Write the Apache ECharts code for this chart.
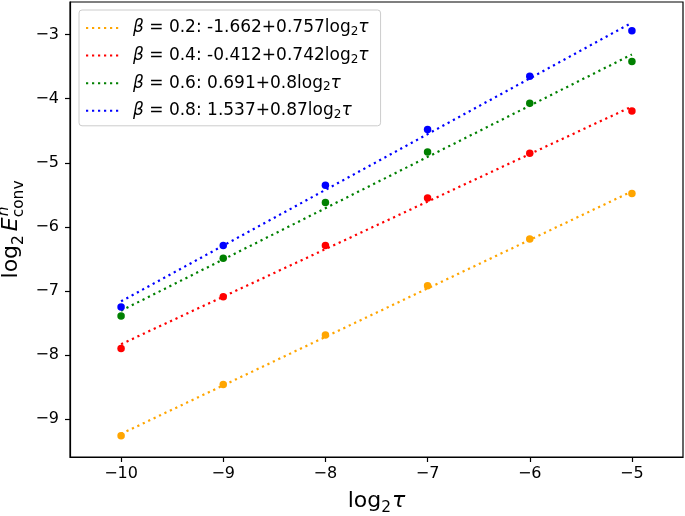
<!DOCTYPE html>
<html><head><meta charset="utf-8">
<script src="https://cdn.jsdelivr.net/npm/echarts@6/dist/echarts.min.js"></script>
<style>html,body{margin:0;padding:0;background:#fff}#c{width:685px;height:516px}</style>
</head><body><div id="c"></div>
<script>
// ---- data ----
const xValues = [-10, -9, -8, -7, -6, -5];
const beta02 = [-9.26, -8.46, -7.69, -6.92, -6.19, -5.48];
const beta04 = [-7.90, -7.09, -6.29, -5.55, -4.85, -4.19];
const beta06 = [-7.39, -6.49, -5.62, -4.83, -4.07, -3.42];
const beta08 = [-7.25, -6.29, -5.35, -4.48, -3.65, -2.94];
const fitX = [-10, -5];
const fit02 = [-9.232, -5.447];
const fit04 = [-7.832, -4.122];
const fit06 = [-7.309, -3.309];
const fit08 = [-7.163, -2.813];
const betaLabels = ['0.2', '0.4', '0.6', '0.8'];
const intercepts = ['-1.662', '-0.412', '0.691', '1.537'];
const slopes = ['0.757', '0.742', '0.8', '0.87'];
const xTicks = [-10, -9, -8, -7, -6, -5];
const yTicks = [-9, -8, -7, -6, -5, -4, -3];
const colors = ['#ffa500', '#ff0000', '#008000', '#0000ff'];

const pts = [beta02, beta04, beta06, beta08];
const fits = [fit02, fit04, fit06, fit08];
const FONT = '"DejaVu Sans"';

const names = betaLabels.map((b, i) => 'β = ' + b + ': ' + intercepts[i] + '+' + slopes[i] + 'log2τ');
const richNames = {};
betaLabels.forEach((b, i) => {
  richNames[names[i]] = '{i|β} = ' + b + ': ' + intercepts[i] + '+' + slopes[i] + 'log{s|2}{i|τ}';
});

const series = [];
pts.forEach((p, i) => {
  series.push({
    name: names[i], type: 'line', symbol: 'none', z: 2,
    data: fitX.map((x, j) => [x, fits[i][j]]),
    lineStyle: { color: colors[i], width: 2.2, type: [2.2, 3.8], cap: 'butt' },
    itemStyle: { color: colors[i] }
  });
  series.push({
    name: 'pts' + i, type: 'scatter', symbolSize: 7.5, z: 3,
    data: xValues.map((x, j) => [x, p[j]]),
    itemStyle: { color: colors[i], opacity: 1 }
  });
});

// label layout helpers
const ctx = document.createElement('canvas').getContext('2d');
function tw(t, font) { ctx.font = font; return ctx.measureText(t).width; }
function buildParts(parts) {
  const els = [];
  let cur = 0;
  parts.forEach(p => {
    const w = tw(p.t, p.font);
    els.push({ p, x: cur + (p.dx || 0) });
    if (!p.noAdvance) cur += w + (p.dx || 0);
  });
  return { els, total: cur };
}
function toGraphic(built, cx, baseline) {
  const start = cx - built.total / 2;
  return built.els.map(e => ({
    type: 'text',
    x: start + e.x,
    y: baseline + (e.p.dy || 0) - 0.32 * e.p.size,
    style: { text: e.p.t, font: e.p.font, fill: '#000', verticalAlign: 'middle', align: 'left' }
  }));
}
const big = 22, sm = 15.4;
const xTitle = buildParts([
  { t: 'log', font: big + 'px ' + FONT, size: big },
  { t: '2', font: sm + 'px ' + FONT, size: sm, dy: 5 },
  { t: 'τ', font: 'italic ' + big + 'px ' + FONT, size: big, dx: 1 }
]);
const yTitle = buildParts([
  { t: 'log', font: big + 'px ' + FONT, size: big },
  { t: '2', font: sm + 'px ' + FONT, size: sm, dy: 5 },
  { t: 'E', font: 'italic ' + big + 'px ' + FONT, size: big, dx: 4 },
  { t: 'n', font: 'italic ' + sm + 'px ' + FONT, size: sm, dy: -10, dx: 1, noAdvance: true },
  { t: 'conv', font: sm + 'px ' + FONT, size: sm, dy: 5 }
]);

const chart = echarts.init(document.getElementById('c'), null, { renderer: 'canvas' });
const minusFmt = v => String(v).replace('-', '\u2212');
chart.setOption({
  animation: false,
  backgroundColor: '#fff',
  grid: { left: 70, right: 2, top: 2, bottom: 59, show: true, borderColor: '#000', borderWidth: 1.2, backgroundColor: 'transparent' },
  xAxis: {
    type: 'value', min: -10.5, max: -4.5,
    splitLine: { show: false },
    axisLine: { show: true, onZero: false, lineStyle: { color: '#000', width: 1.2 } },
    axisTick: { show: true, customValues: xTicks, length: 5, lineStyle: { color: '#000', width: 1.2 } },
    axisLabel: { customValues: xTicks, formatter: minusFmt, fontSize: 16, color: '#000', fontFamily: FONT, margin: 9 }
  },
  yAxis: {
    type: 'value', min: -9.593, max: -2.49,
    splitLine: { show: false },
    axisLine: { show: true, onZero: false, lineStyle: { color: '#000', width: 1.2 } },
    axisTick: { show: true, customValues: yTicks, length: 5, lineStyle: { color: '#000', width: 1.2 } },
    axisLabel: { customValues: yTicks, formatter: minusFmt, fontSize: 16, color: '#000', fontFamily: FONT, margin: 11 }
  },
  legend: {
    data: names, orient: 'vertical', left: 79, top: 10,
    padding: [8, 12, 5, 6], itemGap: 7.6, itemWidth: 33, itemHeight: 14,
    backgroundColor: 'rgba(255,255,255,0.8)', borderColor: '#cccccc', borderWidth: 1, borderRadius: 3,
    selectedMode: false, z: 10,
    itemStyle: { opacity: 0 },
    formatter: n => richNames[n],
    textStyle: {
      fontSize: 17, fontFamily: FONT, color: '#000', lineHeight: 20, padding: [0, 0, 0, 9],
      rich: {
        i: { fontSize: 17, fontStyle: 'italic', fontFamily: FONT, color: '#000', lineHeight: 20 },
        s: { fontSize: 12, fontFamily: FONT, color: '#000', lineHeight: 12, verticalAlign: 'bottom' }
      }
    }
  },
  graphic: [
    { type: 'group', children: toGraphic(xTitle, 376.5, 508) },
    { type: 'group', x: 18.5, y: 229.5, rotation: Math.PI / 2, children: toGraphic(yTitle, 0, 0) }
  ],
  series
});
</script>
</body></html>
